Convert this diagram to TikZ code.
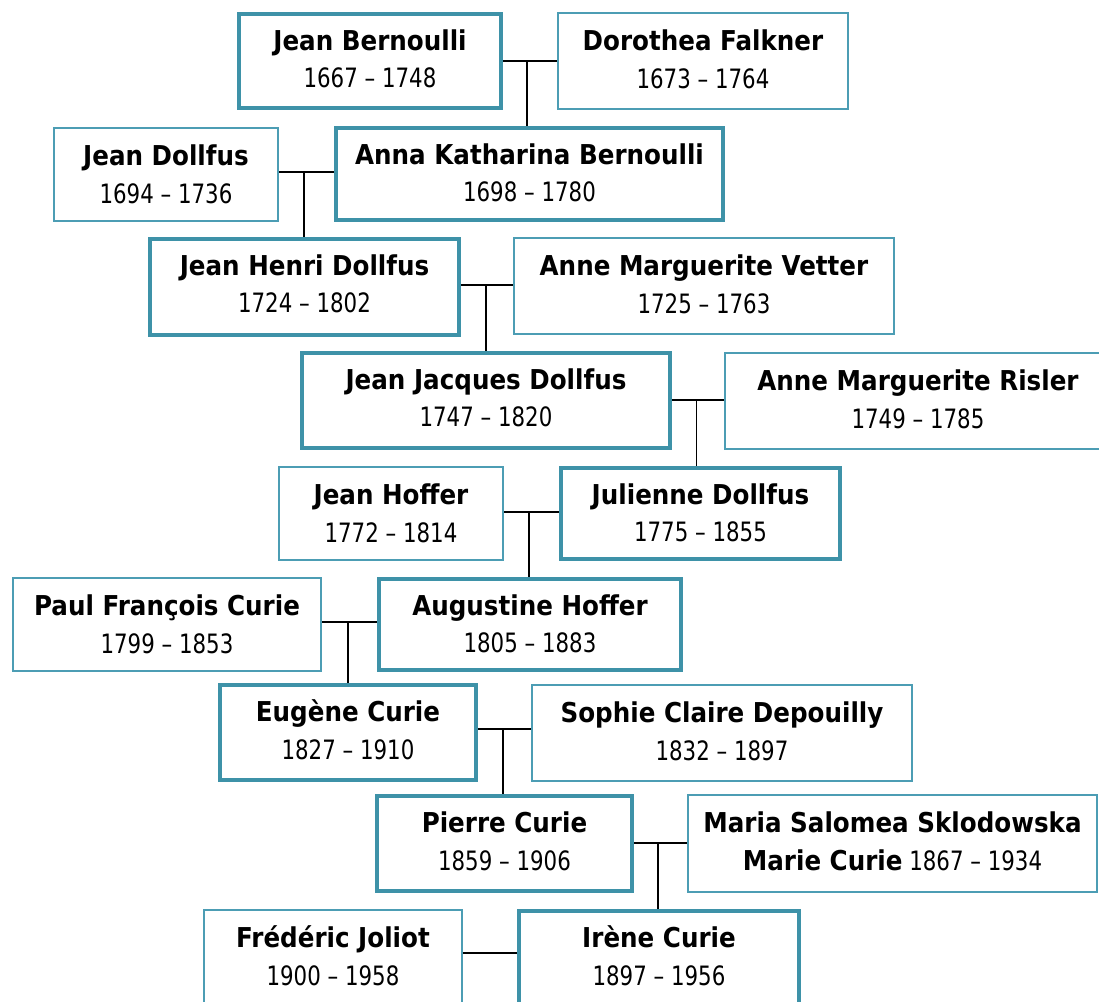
\documentclass[tikz,border=0pt]{standalone}
\usepackage{fontspec}
\setmainfont{DejaVu Sans}
\newfontfamily\datefont[FakeStretch=0.8]{DejaVu Sans}
\newfontfamily\namefont[FakeStretch=0.9]{DejaVu Sans}
\usetikzlibrary{calc}
\definecolor{thickc}{HTML}{3E92A8}
\definecolor{thinc}{HTML}{4C9DB4}
\newcommand\person[8]{%
  \node[#6, minimum width={(#3-#2-\csname lw#6\endcsname)*0.75pt}, minimum height={(#5-#4-\csname lw#6\endcsname)*0.75pt}] (#1) at ({(#2+#3)/2},{(#4+#5)/2}) {};
  \node[nametext] (#1-name) at ($(#1.north)+(0,38.5)$) {#7};
  \node[datetext] (#1-dates) at ($(#1.north)+(0,76)$) {#8};
}
\newcommand\boldpart[1]{{\namefont\bfseries\fontsize{20.5}{24}\selectfont #1}}
\def\lwthickbox{3.7}
\def\lwthinbox{2}
\tikzset{
  thickbox/.style={draw=thickc, line width=2.8pt, fill=white, inner sep=0pt},
  thinbox/.style={draw=thinc, line width=1.5pt, fill=white, inner sep=0pt},
  nametext/.style={anchor=base, inner sep=0pt, font=\namefont\bfseries\fontsize{20.5}{24}\selectfont},
  datetext/.style={anchor=base, inner sep=0pt, font=\datefont\fontsize{20}{24}\selectfont},
  conn/.style={draw=black, line width=1.4pt},
}
\begin{document}
\begin{tikzpicture}[x=0.75pt, y=-0.75pt]
\useasboundingbox (0,0) rectangle (1099,1001);
\clip (0,0) rectangle (1099,1001);
\fill[white] (0,0) rectangle (1099,1001);
\person{jb}{237}{503}{12}{110}{thickbox}{Jean Bernoulli}{1667 – 1748}
\person{df}{557}{849}{12}{110}{thinbox}{Dorothea Falkner}{1673 – 1764}
\person{jd}{53}{279}{127}{222}{thinbox}{Jean Dollfus}{1694 – 1736}
\person{ak}{334}{725}{126}{222}{thickbox}{Anna Katharina Bernoulli}{1698 – 1780}
\person{jhen}{148}{461}{237}{337}{thickbox}{Jean Henri Dollfus}{1724 – 1802}
\person{vet}{513}{895}{237}{335}{thinbox}{Anne Marguerite Vetter}{1725 – 1763}
\person{jjd}{300}{672}{351}{450}{thickbox}{Jean Jacques Dollfus}{1747 – 1820}
\person{ris}{724}{1112}{352}{450}{thinbox}{Anne Marguerite Risler}{1749 – 1785}
\person{jhof}{278}{504}{466}{561}{thinbox}{Jean Hoffer}{1772 – 1814}
\person{jul}{559}{842}{466}{561}{thickbox}{Julienne Dollfus}{1775 – 1855}
\person{pfc}{12}{322}{577}{672}{thinbox}{Paul François Curie}{1799 – 1853}
\person{aug}{377}{683}{577}{672}{thickbox}{Augustine Hoffer}{1805 – 1883}
\person{eug}{218}{478}{683}{782}{thickbox}{Eugène Curie}{1827 – 1910}
\person{sop}{531}{913}{684}{782}{thinbox}{Sophie Claire Depouilly}{1832 – 1897}
\person{pie}{375}{634}{794}{893}{thickbox}{Pierre Curie}{1859 – 1906}
\person{mar}{687}{1098}{794}{893}{thinbox}{Maria Salomea Sklodowska}{\boldpart{Marie Curie} 1867 – 1934}
\person{fj}{203}{463}{909}{1012}{thinbox}{Frédéric Joliot}{1900 – 1958}
\person{ir}{517}{801}{909}{1012}{thickbox}{Irène Curie}{1897 – 1956}
% couples
\coordinate (c1) at ($(jb.north east)+(0,49)$);
\coordinate (c2) at ($(jd.north east)+(0,45)$);
\coordinate (c3) at ($(jhen.north east)+(0,48)$);
\coordinate (c4) at ($(jjd.north east)+(0,49)$);
\coordinate (c5) at ($(jhof.north east)+(0,46)$);
\coordinate (c6) at ($(pfc.north east)+(0,45)$);
\coordinate (c7) at ($(eug.north east)+(0,46)$);
\coordinate (c8) at ($(pie.north east)+(0,49)$);
\coordinate (c9) at ($(fj.north east)+(0,44)$);
\draw[conn] (c1) -- (c1 -| df.west);
\draw[conn] (c2) -- (c2 -| ak.west);
\draw[conn] (c3) -- (c3 -| vet.west);
\draw[conn] (c4) -- (c4 -| ris.west);
\draw[conn] (c5) -- (c5 -| jul.west);
\draw[conn] (c6) -- (c6 -| aug.west);
\draw[conn] (c7) -- (c7 -| sop.west);
\draw[conn] (c8) -- (c8 -| mar.west);
\draw[conn] (c9) -- (c9 -| ir.west);
% descents
\coordinate (m1) at ($(c1)!0.45!(c1 -| df.west)$);
\coordinate (m2) at ($(c2)!0.45!(c2 -| ak.west)$);
\coordinate (m3) at ($(c3)!0.48!(c3 -| vet.west)$);
\coordinate (m4) at ($(c4)!0.47!(c4 -| ris.west)$);
\coordinate (m5) at ($(c5)!0.45!(c5 -| jul.west)$);
\coordinate (m6) at ($(c6)!0.47!(c6 -| aug.west)$);
\coordinate (m7) at ($(c7)!0.47!(c7 -| sop.west)$);
\coordinate (m8) at ($(c8)!0.45!(c8 -| mar.west)$);
\draw[conn] (m1) -- (m1 |- ak.north);
\draw[conn] (m2) -- (m2 |- jhen.north);
\draw[conn] (m3) -- (m3 |- jjd.north);
\draw[conn] (m4) -- (m4 |- jul.north);
\draw[conn] (m5) -- (m5 |- aug.north);
\draw[conn] (m6) -- (m6 |- eug.north);
\draw[conn] (m7) -- (m7 |- pie.north);
\draw[conn] (m8) -- (m8 |- ir.north);
\end{tikzpicture}
\end{document}
